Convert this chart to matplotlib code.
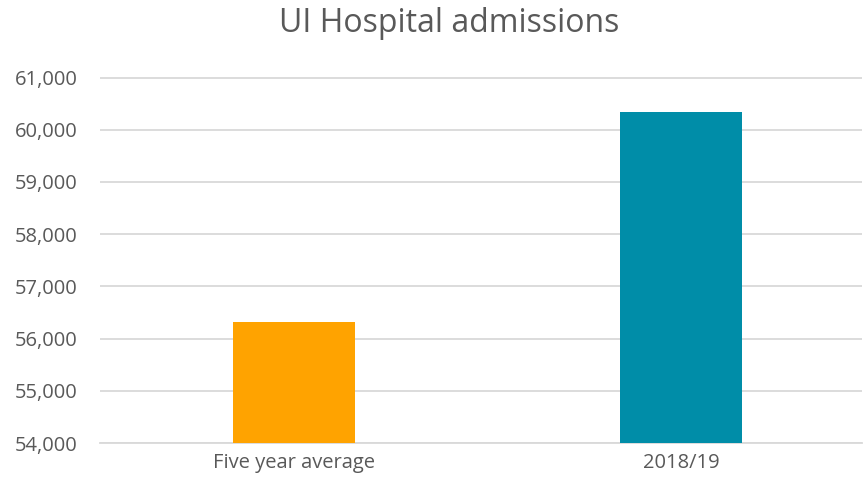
import matplotlib
matplotlib.use("Agg")
import matplotlib.pyplot as plt
from matplotlib.ticker import FuncFormatter, MultipleLocator

categories = ["Five year average", "2018/19"]
values = [56325, 60338]
colors = ["#FFA300", "#008DA8"]
title = "UI Hospital admissions"

plt.rcParams['font.family'] = ['Open Sans', 'DejaVu Sans']
fig = plt.figure(figsize=(8.65, 4.86), dpi=100)
ax = fig.add_axes([100/865, 1-443/486, 762/865, (443-77.5)/486])
x = range(len(categories))
ax.bar(x, values, width=0.315, color=colors, zorder=3)
ax.set_ylim(54000, 61000)
ax.set_xlim(-0.501, 1.468)
ax.yaxis.set_major_locator(MultipleLocator(1000))
ax.yaxis.set_major_formatter(FuncFormatter(lambda v, p: f"{int(v):,}"))
ax.set_xticks(list(x))
ax.set_xticklabels(categories)
ax.grid(axis='y', color='#D9D9D9', linewidth=1.3, zorder=0)
for s in ax.spines.values():
    s.set_visible(False)
ax.spines['bottom'].set_visible(True)
ax.spines['bottom'].set_color('#D9D9D9')
ax.spines['bottom'].set_linewidth(1.3)
ax.tick_params(axis='both', length=0, labelsize=14.5, colors='#595959', pad=7)
ax.tick_params(axis='y', pad=16)
fig.text(449/865, 1-23/486, title, ha='center', va='center', fontsize=23, color='#595959')
fig.savefig("out.png", dpi=100)
